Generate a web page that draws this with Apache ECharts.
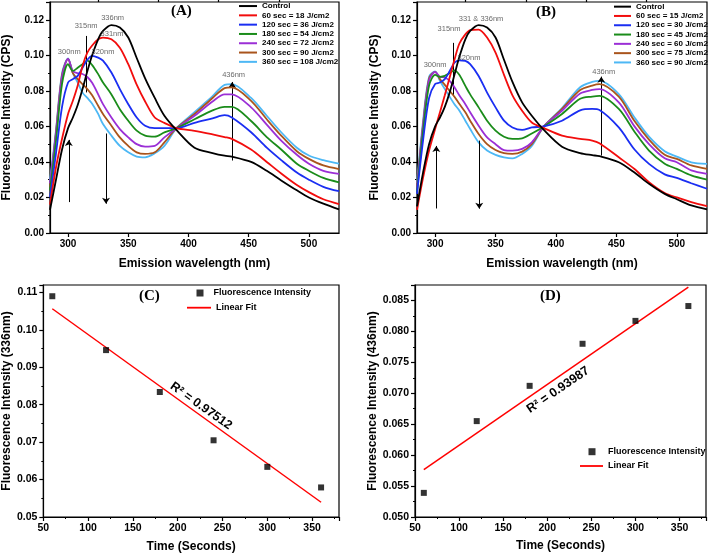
<!DOCTYPE html>
<html>
<head>
<meta charset="utf-8">
<script src="https://cdn.jsdelivr.net/npm/echarts@6/dist/echarts.min.js"></script>
<style>
html, body { margin: 0; padding: 0; background: #fff; }
#container { width: 708px; height: 556px; }
</style>
</head>
<body>
<div id="container"></div>
<script>
// emission wavelengths (nm), shared by panels A and B
var wl = [285, 290, 295, 300, 304, 308, 312, 316, 320, 325, 329, 336, 343, 350, 357, 364, 372, 380, 390, 405, 420, 430, 436, 452, 465, 477, 490, 500, 512, 525];

// panel A spectra
var namesA = ['Control', '60 sec = 18 J/cm2', '120 sec = 36 J/cm2', '180 sec = 54 J/cm2', '240 sec = 72 J/cm2', '300 sec = 90 J/cm2', '360 sec = 108 J/cm2'];
var controlA = [0.013, 0.030, 0.047, 0.059, 0.065, 0.072, 0.081, 0.091, 0.100, 0.109, 0.1137, 0.117, 0.1156, 0.110, 0.0985, 0.087, 0.076, 0.066, 0.058, 0.048, 0.045, 0.0435, 0.043, 0.040, 0.035, 0.0296, 0.024, 0.020, 0.0165, 0.0133];
var s60A = [0.016, 0.037, 0.053, 0.067, 0.0744, 0.083, 0.094, 0.1015, 0.1055, 0.109, 0.110, 0.109, 0.1043, 0.095, 0.0835, 0.074, 0.065, 0.062, 0.059, 0.0575, 0.0555, 0.054, 0.053, 0.047, 0.040, 0.0335, 0.027, 0.023, 0.019, 0.0163];
var s120A = [0.020, 0.045, 0.071, 0.0847, 0.0866, 0.0884, 0.093, 0.0975, 0.0997, 0.0987, 0.097, 0.0903, 0.081, 0.0725, 0.065, 0.0604, 0.059, 0.059, 0.059, 0.062, 0.0645, 0.0663, 0.065, 0.0567, 0.048, 0.041, 0.034, 0.030, 0.026, 0.0235];
var s180A = [0.024, 0.052, 0.084, 0.095, 0.0912, 0.093, 0.095, 0.097, 0.0945, 0.0894, 0.0847, 0.078, 0.0697, 0.0632, 0.0576, 0.0548, 0.0542, 0.0566, 0.059, 0.064, 0.069, 0.071, 0.071, 0.063, 0.054, 0.047, 0.039, 0.035, 0.031, 0.0285];
var s240A = [0.028, 0.056, 0.088, 0.098, 0.091, 0.090, 0.0895, 0.0878, 0.0845, 0.078, 0.0725, 0.065, 0.0585, 0.0538, 0.050, 0.0486, 0.049, 0.0538, 0.059, 0.066, 0.074, 0.078, 0.078, 0.0707, 0.061, 0.052, 0.044, 0.039, 0.035, 0.0333];
var s300A = [0.026, 0.057, 0.089, 0.098, 0.090, 0.0866, 0.0838, 0.081, 0.0775, 0.0716, 0.067, 0.0604, 0.0538, 0.049, 0.0454, 0.0445, 0.0454, 0.051, 0.059, 0.067, 0.076, 0.0815, 0.082, 0.0744, 0.064, 0.0548, 0.046, 0.0417, 0.038, 0.036];
var s360A = [0.0295, 0.058, 0.090, 0.0982, 0.090, 0.0847, 0.079, 0.076, 0.0728, 0.067, 0.0613, 0.0548, 0.049, 0.0454, 0.043, 0.0426, 0.0449, 0.049, 0.059, 0.068, 0.077, 0.0834, 0.0838, 0.076, 0.066, 0.0567, 0.048, 0.0436, 0.041, 0.039];

// panel B spectra
var namesB = ['Control', '60 sec = 15 J/cm2', '120 sec = 30 J/cm2', '180 sec = 45 J/cm2', '240 sec = 60 J/cm2', '300 sec = 75 J/cm2', '360 sec = 90 J/cm2'];
var controlB = [0.015, 0.034, 0.050, 0.060, 0.065, 0.071, 0.079, 0.089, 0.099, 0.109, 0.1137, 0.117, 0.1156, 0.110, 0.0975, 0.085, 0.0735, 0.066, 0.058, 0.0486, 0.045, 0.0438, 0.0432, 0.0398, 0.034, 0.0277, 0.022, 0.019, 0.0155, 0.0133];
var s60B = [0.013, 0.031, 0.0464, 0.0585, 0.068, 0.0775, 0.0875, 0.0975, 0.1065, 0.1118, 0.1142, 0.1145, 0.110, 0.1015, 0.089, 0.0775, 0.0688, 0.0622, 0.059, 0.0548, 0.053, 0.052, 0.0505, 0.0426, 0.036, 0.0286, 0.0225, 0.020, 0.0174, 0.0151];
var s120B = [0.022, 0.052, 0.076, 0.0838, 0.0847, 0.0866, 0.091, 0.0958, 0.0972, 0.0969, 0.095, 0.0884, 0.079, 0.0707, 0.0632, 0.0594, 0.058, 0.0594, 0.060, 0.0632, 0.069, 0.0698, 0.0692, 0.0594, 0.047, 0.0389, 0.033, 0.031, 0.028, 0.0249];
var s180B = [0.023, 0.057, 0.083, 0.089, 0.0879, 0.0884, 0.090, 0.0915, 0.089, 0.0828, 0.078, 0.0707, 0.0632, 0.0576, 0.0542, 0.053, 0.0533, 0.056, 0.060, 0.067, 0.0755, 0.0768, 0.0772, 0.0698, 0.057, 0.0464, 0.039, 0.0361, 0.0324, 0.030];
var s240B = [0.025, 0.060, 0.086, 0.0907, 0.0879, 0.0875, 0.0856, 0.082, 0.0775, 0.0725, 0.0679, 0.0604, 0.0538, 0.050, 0.0467, 0.0464, 0.0473, 0.051, 0.060, 0.0688, 0.0785, 0.0805, 0.081, 0.0735, 0.060, 0.050, 0.042, 0.0398, 0.0352, 0.0333];
var s300B = [0.026, 0.061, 0.087, 0.0907, 0.0866, 0.0834, 0.080, 0.0767, 0.0727, 0.0679, 0.0632, 0.0557, 0.050, 0.0467, 0.0449, 0.0445, 0.0458, 0.050, 0.060, 0.0698, 0.0805, 0.083, 0.0838, 0.0767, 0.063, 0.0526, 0.044, 0.0417, 0.038, 0.0361];
var s360B = [0.028, 0.063, 0.088, 0.0909, 0.0856, 0.081, 0.0767, 0.0725, 0.069, 0.0632, 0.0585, 0.051, 0.0464, 0.044, 0.0426, 0.042, 0.0445, 0.049, 0.060, 0.0703, 0.082, 0.085, 0.0856, 0.0782, 0.065, 0.0542, 0.046, 0.043, 0.0398, 0.0389];

var colors = ['#000000', '#f20d0d', '#1a2ef2', '#1a8c1a', '#9b2fd6', '#a9541c', '#4db8f5'];

// panels C and D: irradiation time vs intensity
var timeSec = [60, 120, 180, 240, 300, 360];
var int336 = [0.109, 0.0946, 0.0834, 0.0705, 0.0634, 0.0579];
var int436 = [0.0539, 0.0655, 0.0712, 0.0780, 0.0817, 0.0841];

// peak labels (text, wavelength, intensity)
var notesA = [['336nm', 337, 0.1208], ['315nm', 315, 0.1165], ['331nm', 336.5, 0.1118], ['300nm', 301, 0.102], ['320nm', 329, 0.102], ['436nm', 437.5, 0.089]];
var notesB = [['331 & 336nm', 338, 0.1202], ['315nm', 311.5, 0.1146], ['320nm', 328, 0.0987], ['300nm', 300, 0.0946], ['436nm', 439.5, 0.0907]];
// arrows / marker lines [wavelength, from, to, head]
var arrowsA = [[300.6, 0.0174, 0.0524, true], [331.5, 0.056, 0.0165, true], [436.3, 0.0408, 0.085, true], [315, 0.1109, 0.0791, false]];
var arrowsB = [[301, 0.0138, 0.049, true], [336.5, 0.052, 0.0137, true], [437.5, 0.0436, 0.088, true], [315.2, 0.107, 0.077, false]];

var FONT = 'Liberation Sans';

function linFit(xs, ys) {
    var n = xs.length, mx = 0, my = 0, sxy = 0, sxx = 0;
    for (var i = 0; i < n; i++) { mx += xs[i] / n; my += ys[i] / n; }
    for (var j = 0; j < n; j++) {
        sxy += (xs[j] - mx) * (ys[j] - my);
        sxx += (xs[j] - mx) * (xs[j] - mx);
    }
    var b = sxy / sxx, a = my - b * mx;
    return [[xs[0], a + b * xs[0]], [xs[n - 1], a + b * xs[n - 1]]];
}

function zip(xs, ys) {
    return xs.map(function (x, i) { return [x, ys[i]]; });
}

function spectra(names, arrays, xi, yi) {
    return arrays.map(function (arr, k) {
        return {
            name: names[k], type: 'line', xAxisIndex: xi, yAxisIndex: yi,
            data: zip(wl, arr), symbol: 'none', smooth: 0.3,
            lineStyle: {width: 1.8, color: colors[k]}, itemStyle: {color: colors[k]},
            z: 10 - k
        };
    });
}

function notes(list, arrows, xi, yi) {
    return {
        type: 'scatter', xAxisIndex: xi, yAxisIndex: yi, symbolSize: 1,
        itemStyle: {color: 'rgba(0,0,0,0)'}, silent: true, z: 20,
        label: {show: true, position: 'inside', formatter: '{b}', fontFamily: FONT, fontSize: 7.5, color: '#444'},
        data: list.map(function (n) { return {name: n[0], value: [n[1], n[2]]}; }),
        markLine: {
            silent: true, animation: false, symbolSize: 6,
            lineStyle: {color: '#000', width: 1, type: 'solid'},
            label: {show: false},
            data: arrows.map(function (a) {
                return [{coord: [a[0], a[1]], symbol: 'none'}, {coord: [a[0], a[2]], symbol: a[3] ? 'arrow' : 'none'}];
            })
        }
    };
}

var axisBase = {
    axisLine: {show: true, onZero: false, lineStyle: {color: '#000', width: 1.2}},
    axisTick: {show: true, length: 4, lineStyle: {color: '#000', width: 1.2}},
    minorTick: {show: true, splitNumber: 2, length: 2, lineStyle: {color: '#000'}},
    splitLine: {show: false},
    axisLabel: {fontFamily: FONT, fontWeight: 'bold', color: '#000'},
    nameLocation: 'middle',
    nameTextStyle: {fontFamily: FONT, fontWeight: 'bold', fontSize: 12, color: '#000'}
};

function axis(extra) {
    var o = JSON.parse(JSON.stringify(axisBase));
    for (var k in extra) {
        if (typeof extra[k] === 'object' && !Array.isArray(extra[k]) && o[k]) {
            for (var kk in extra[k]) o[k][kk] = extra[k][kk];
        } else {
            o[k] = extra[k];
        }
    }
    return o;
}

var major = [300, 350, 400, 450, 500];
var minor = [325, 375, 425, 475];

var legendText = {fontFamily: FONT, fontWeight: 'bold', color: '#000'};
function legend(names, left, top, w, h, gap, size, lh, fmt) {
    return {
        data: names, orient: 'vertical', left: left, top: top, itemWidth: w, itemHeight: h,
        itemGap: gap, padding: 0, icon: 'rect', selectedMode: false, formatter: fmt || '{name}',
        textStyle: Object.assign({fontSize: size, lineHeight: lh}, legendText)
    };
}

var dom = document.getElementById('container');
var myChart = echarts.init(dom, null, {renderer: 'canvas'});

var gridStyle = {show: true, borderColor: '#000', borderWidth: 1.2, containLabel: false};

var option = {
    animation: false,
    backgroundColor: '#fff',
    grid: [
        Object.assign({left: 50, top: 2, width: 289, height: 231}, gridStyle),
        Object.assign({left: 417, top: 2, width: 290, height: 231}, gridStyle),
        Object.assign({left: 42, top: 285, width: 297, height: 232}, gridStyle),
        Object.assign({left: 415, top: 285, width: 291, height: 232}, gridStyle)
    ],
    xAxis: [
        axis({gridIndex: 0, type: 'value', min: 285, max: 525, name: 'Emission wavelength (nm)', nameGap: 25,
            axisTick: {customValues: major}, minorTick: {show: false},
            axisLabel: {customValues: major, fontSize: 10, margin: 6}}),
        axis({gridIndex: 0, type: 'value', min: 285, max: 525, axisLine: {show: false},
            axisTick: {customValues: minor, length: 2}, minorTick: {show: false}, axisLabel: {show: false}}),
        axis({gridIndex: 1, type: 'value', min: 285, max: 525, name: 'Emission wavelength (nm)', nameGap: 25,
            axisTick: {customValues: major}, minorTick: {show: false},
            axisLabel: {customValues: major, fontSize: 10, margin: 6}}),
        axis({gridIndex: 1, type: 'value', min: 285, max: 525, axisLine: {show: false},
            axisTick: {customValues: minor, length: 2}, minorTick: {show: false}, axisLabel: {show: false}}),
        axis({gridIndex: 2, type: 'value', min: 50, max: 380, interval: 50, name: 'Time (Seconds)', nameGap: 24,
            axisLabel: {fontSize: 10.5, margin: 6, showMaxLabel: false}}),
        axis({gridIndex: 3, type: 'value', min: 50, max: 380, interval: 50, name: 'Time (Seconds)', nameGap: 23,
            axisLabel: {fontSize: 10.5, margin: 6, showMaxLabel: false}})
    ],
    yAxis: [
        axis({gridIndex: 0, type: 'value', min: 0, max: 0.13, interval: 0.02, name: 'Fluorescence Intensity (CPS)', nameGap: 37,
            axisLabel: {fontSize: 10, margin: 6, showMaxLabel: false, formatter: function (v) { return v.toFixed(2); }}}),
        axis({gridIndex: 1, type: 'value', min: 0, max: 0.13, interval: 0.02, name: 'Fluorescence Intensity (CPS)', nameGap: 36,
            axisLabel: {fontSize: 10, margin: 6, showMaxLabel: false, formatter: function (v) { return v.toFixed(2); }}}),
        axis({gridIndex: 2, type: 'value', min: 0.05, max: 0.112, interval: 0.01, name: 'Fluorescence Intensity (336nm)', nameGap: 28,
            axisLabel: {fontSize: 10.5, margin: 6, showMaxLabel: false, formatter: function (v) { return v.toFixed(2); }}}),
        axis({gridIndex: 3, type: 'value', min: 0.05, max: 0.0875, interval: 0.005, name: 'Fluorescence Intensity (436nm)', nameGap: 34,
            axisLabel: {fontSize: 10.5, margin: 6, showMaxLabel: false, formatter: function (v) { return v.toFixed(3); }}})
    ],
    legend: [
        legend(namesA, 239, 1.4, 18, 2, 0, 8, 9.3),
        legend(namesB, 614, 2, 17, 2, 0, 8, 9.3),
        legend(['Fluorescence Intensity'], 196.5, 287.5, 7, 7, 0, 9, 11, '  {name}'),
        legend(['Linear Fit'], 187, 302.2, 24, 1.8, 0, 9, 11),
        legend(['Fluorescence Intensity'], 588.5, 446.2, 7, 7, 0, 9, 11, '   {name}'),
        legend(['Linear Fit'], 580, 460.5, 23, 1.8, 0, 9, 11)
    ],
    graphic: [
        {type: 'text', left: 171, top: 4, style: {text: '(A)', font: 'bold 15px "Liberation Serif"', fill: '#000'}},
        {type: 'text', left: 536, top: 5, style: {text: '(B)', font: 'bold 15px "Liberation Serif"', fill: '#000'}},
        {type: 'text', left: 139, top: 289, style: {text: '(C)', font: 'bold 15px "Liberation Serif"', fill: '#000'}},
        {type: 'text', left: 540, top: 289, style: {text: '(D)', font: 'bold 15px "Liberation Serif"', fill: '#000'}},
        {type: 'text', x: 201, y: 406, rotation: -0.62, style: {text: 'R² = 0.97512', font: 'bold 12.5px "Liberation Sans"', fill: '#000', align: 'center', verticalAlign: 'middle'}},
        {type: 'text', x: 558, y: 390, rotation: 0.6, style: {text: 'R² = 0.93987', font: 'bold 12.5px "Liberation Sans"', fill: '#000', align: 'center', verticalAlign: 'middle'}}
    ],
    series: [].concat(
        spectra(namesA, [controlA, s60A, s120A, s180A, s240A, s300A, s360A], 0, 0),
        [notes(notesA, arrowsA, 0, 0)],
        spectra(namesB, [controlB, s60B, s120B, s180B, s240B, s300B, s360B], 2, 1),
        [notes(notesB, arrowsB, 2, 1)],
        [
            {name: 'Fluorescence Intensity', type: 'scatter', xAxisIndex: 4, yAxisIndex: 2, symbol: 'rect', symbolSize: 6,
                itemStyle: {color: '#000'}, data: zip(timeSec, int336), z: 5},
            {name: 'Linear Fit', type: 'line', xAxisIndex: 4, yAxisIndex: 2, symbol: 'none',
                lineStyle: {color: '#f00', width: 1.5}, itemStyle: {color: '#f00'}, data: linFit(timeSec, int336)},
            {name: 'Fluorescence Intensity', type: 'scatter', xAxisIndex: 5, yAxisIndex: 3, symbol: 'rect', symbolSize: 6,
                itemStyle: {color: '#000'}, data: zip(timeSec, int436), z: 5},
            {name: 'Linear Fit', type: 'line', xAxisIndex: 5, yAxisIndex: 3, symbol: 'none',
                lineStyle: {color: '#f00', width: 1.5}, itemStyle: {color: '#f00'}, data: linFit(timeSec, int436)}
        ]
    )
};

if (option && typeof option === 'object') {
    myChart.setOption(option, true);
}
</script>
</body>
</html>
